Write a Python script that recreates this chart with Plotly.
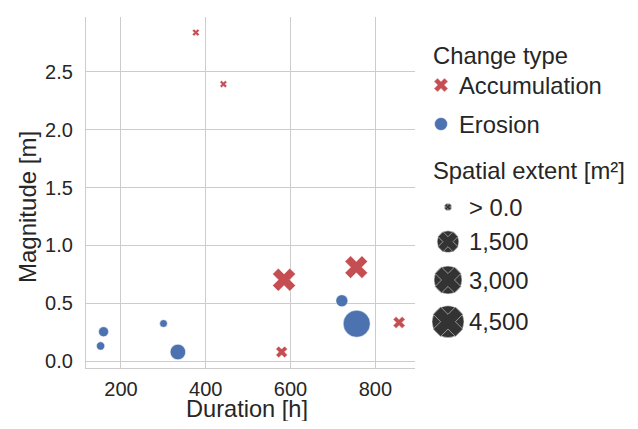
import numpy as np
import plotly.graph_objects as go

# ---------------- data ----------------
acc_duration = [376.7, 441.7, 579, 584.7, 755, 856]
acc_magnitude = [2.837, 2.392, 0.081, 0.704, 0.813, 0.336]
acc_extent = [20, 30, 480, 1810, 1740, 510]

ero_duration = [152, 159, 300.4, 334.3, 721, 756]
ero_magnitude = [0.133, 0.256, 0.327, 0.081, 0.523, 0.325]
ero_extent = [130, 300, 70, 870, 510, 2760]

x_ticks = [200, 400, 600, 800]
y_ticks = [0.0, 0.5, 1.0, 1.5, 2.0, 2.5]

x_title = "Duration [h]"
y_title = "Magnitude [m]"
type_labels = ["Accumulation", "Erosion"]
size_legend_values = [0, 1500, 3000, 4500]
size_legend_labels = ["> 0.0", "1,500", "3,000", "4,500"]

# ---------------- style ----------------
OFF = 8                      # page body margin
W, H = 638 - 2 * OFF, 429 - 2 * OFF
RED = "#C44E52"
BLUE = "#4C72B0"
DARK = "#333333"
TEXT = "#262626"
GRID = "#cccccc"
FONT = "Liberation Sans, Arial, sans-serif"

# size scale (extent -> marker diameter in px)
EXT_STOPS = [0, 1500, 3000, 4500]
PX_STOPS = [7, 21.7, 28, 32]
X_RATIO = 1.131  # plotly 'x' symbol width / size


def diam(v):
    return np.interp(np.asarray(v, dtype=float), EXT_STOPS, PX_STOPS)


def px(v):
    return v - OFF


# plot area in page px
PL, PR, PT, PB = px(86), px(415), px(17), px(368)

fig = go.Figure()

fig.add_trace(go.Scatter(
    x=acc_duration, y=acc_magnitude, mode="markers", name="Accumulation",
    marker=dict(symbol="x", color=RED, size=diam(acc_extent) / X_RATIO, opacity=1,
                line=dict(color="white", width=0.5)),
    showlegend=False, xaxis="x", yaxis="y"))
fig.add_trace(go.Scatter(
    x=ero_duration, y=ero_magnitude, mode="markers", name="Erosion",
    marker=dict(symbol="circle", color=BLUE, size=diam(ero_extent), opacity=1,
                line=dict(color="white", width=0.5)),
    showlegend=False, xaxis="x", yaxis="y"))

# ---------------- manual legend on pixel-unit axes ----------------
LX0 = px(420)
TITLE_X = px(432)
MARK_X_TYPE = px(441)
TEXT_X_TYPE = px(458)
MARK_X_SIZE = px(448)
TEXT_X_SIZE = px(468)
TYPE_TITLE_Y = px(55)
TYPE_ROWS_Y = [px(85), px(124)]
SIZE_TITLE_Y = px(170)
SIZE_ROWS_Y = [px(207), px(241.7), px(280), px(321.7)]
TYPE_MARK = 14
LEG_FS = 23.8

fig.add_trace(go.Scatter(
    x=[MARK_X_TYPE], y=[TYPE_ROWS_Y[0]], mode="markers",
    marker=dict(symbol="x", color=RED, size=TYPE_MARK / X_RATIO, opacity=1,
                line=dict(color="white", width=0.5)),
    showlegend=False, xaxis="x2", yaxis="y2", hoverinfo="skip"))
fig.add_trace(go.Scatter(
    x=[MARK_X_TYPE], y=[TYPE_ROWS_Y[1]], mode="markers",
    marker=dict(symbol="circle", color=BLUE, size=TYPE_MARK - 1, opacity=1,
                line=dict(color="white", width=0.5)),
    showlegend=False, xaxis="x2", yaxis="y2", hoverinfo="skip"))

sd = diam(size_legend_values)
fig.add_trace(go.Scatter(
    x=[MARK_X_SIZE] * len(sd), y=SIZE_ROWS_Y, mode="markers",
    marker=dict(symbol="circle", color=DARK, size=sd, opacity=1,
                line=dict(color="white", width=0.5)),
    showlegend=False, xaxis="x2", yaxis="y2", hoverinfo="skip"))
fig.add_trace(go.Scatter(
    x=[MARK_X_SIZE] * len(sd), y=SIZE_ROWS_Y, mode="markers",
    marker=dict(symbol="x", color=DARK, size=sd / X_RATIO * 0.92, opacity=1,
                line=dict(color="#b0b0b0", width=0.8)),
    showlegend=False, xaxis="x2", yaxis="y2", hoverinfo="skip"))

anns = []


def txt(x, y, s):
    anns.append(dict(x=x, y=y, xref="x2", yref="y2", text=s, showarrow=False,
                     xanchor="left", yanchor="middle", borderpad=0,
                     font=dict(family=FONT, size=LEG_FS, color=TEXT)))


txt(TITLE_X, TYPE_TITLE_Y, "Change type")
for lab, yy in zip(type_labels, TYPE_ROWS_Y):
    txt(TEXT_X_TYPE, yy, lab)
txt(TITLE_X, SIZE_TITLE_Y, "Spatial extent [m²]")
for lab, yy in zip(size_legend_labels, SIZE_ROWS_Y):
    txt(TEXT_X_SIZE, yy, lab)

# axis titles as paper annotations
anns.append(dict(x=px(247) / W, y=1 - px(409) / H, xref="paper", yref="paper",
                 text=x_title, showarrow=False, xanchor="center", yanchor="middle",
                 borderpad=0, font=dict(family=FONT, size=23.6, color=TEXT)))
anns.append(dict(x=px(27.5) / W, y=1 - px(207.5) / H, xref="paper", yref="paper",
                 text=y_title, showarrow=False, xanchor="center", yanchor="middle",
                 textangle=-90, borderpad=0,
                 font=dict(family=FONT, size=24, color=TEXT)))

fig.update_layout(
    width=W, height=H,
    margin=dict(l=0, r=0, t=0, b=0),
    paper_bgcolor="white", plot_bgcolor="rgba(0,0,0,0)",
    font=dict(family=FONT, color=TEXT),
    showlegend=False,
    annotations=anns,
    xaxis=dict(
        domain=[PL / W, PR / W], range=[117.6, 893.5],
        tickvals=x_ticks, ticks="outside", ticklen=3, tickcolor="rgba(0,0,0,0)",
        showgrid=True, gridcolor=GRID, gridwidth=1.3,
        showline=True, linecolor=GRID, linewidth=1.3, zeroline=False,
        tickfont=dict(size=20, color=TEXT),
        automargin=False, anchor="y"),
    yaxis=dict(
        domain=[1 - PB / H, 1 - PT / H], range=[-0.057, 2.971],
        tickvals=y_ticks, tickformat=".1f", ticks="outside", ticklen=8,
        tickcolor="rgba(0,0,0,0)",
        showgrid=True, gridcolor=GRID, gridwidth=1.3,
        showline=True, linecolor=GRID, linewidth=1.3, zeroline=False,
        tickfont=dict(size=20, color=TEXT),
        automargin=False, anchor="x"),
    xaxis2=dict(domain=[LX0 / W, 1], range=[LX0, W], visible=False,
                fixedrange=True, anchor="y2"),
    yaxis2=dict(domain=[0, 1], range=[H, 0], visible=False,
                fixedrange=True, anchor="x2"),
)

fig.write_html("out.html")
